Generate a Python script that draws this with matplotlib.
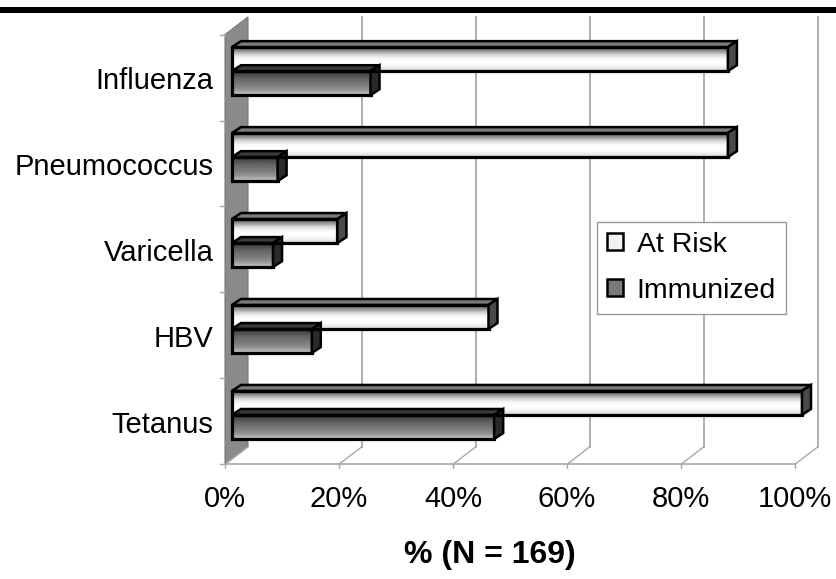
import numpy as np
import matplotlib
matplotlib.use("Agg")
import matplotlib.pyplot as plt
from matplotlib.patches import Rectangle, Polygon, Patch

plt.rcParams['font.family'] = ['Liberation Sans', 'DejaVu Sans']

# data (bottom to top)
categories = ['Tetanus', 'HBV', 'Varicella', 'Pneumococcus', 'Influenza']
at_risk = [100, 45, 18.5, 87, 87]
immunized = [46, 14, 7.2, 8, 24.3]
xticks = [0, 20, 40, 60, 80, 100]
xticklabels = ['0%', '20%', '40%', '60%', '80%', '100%']

W, H = 836, 579
fig = plt.figure(figsize=(W / 100, H / 100), dpi=100)

# axes placed so that 0% -> 225px, 100% -> 795px, y=-0.5 -> 473px, y=4.5 -> 35px
xmin, xmax = -1.0, 105.0
ymin, ymax = -0.55, 4.75
pxx = 5.7
pxy = 87.6
left = 225 + xmin * pxx
right = 225 + xmax * pxx
bottom = 473 + (ymin + 0.5) * pxy
top = 473 - (ymax + 0.5) * pxy
ax = fig.add_axes([left / W, 1 - bottom / H, (right - left) / W, (bottom - top) / H])
ax.set_xlim(xmin, xmax)
ax.set_ylim(ymin, ymax)
ax.axis('off')

# 3d depth offsets (data units)
ddx, ddy = 23 / pxx, 18 / pxy
grid_c = '#a8a8a8'

# left wall
wall = Polygon([(0, -0.5), (ddx, -0.5 + ddy), (ddx, 4.5 + ddy), (0, 4.5)],
               closed=True, facecolor='#8a8a8a', edgecolor='#777777', lw=0.8, zorder=1)
ax.add_patch(wall)

# floor + back gridlines
ax.plot([0, 100], [-0.5, -0.5], color=grid_c, lw=1.2, zorder=1)
for v, lab in zip(xticks, xticklabels):
    ax.plot([v, v + ddx], [-0.5, -0.5 + ddy], color=grid_c, lw=1.0, zorder=1)
    ax.plot([v, v], [-0.5, -0.5 - 0.08], color=grid_c, lw=1.0, zorder=1)
    if v > 0:
        ax.plot([v + ddx, v + ddx], [-0.5 + ddy, 4.5 + ddy], color=grid_c, lw=1.3, zorder=1)
    ax.text(v, -1.0, lab, ha='center', va='baseline', fontsize=21, clip_on=False)

# wall ticks
for k in range(6):
    ax.plot([-0.8, 0], [-0.5 + k, -0.5 + k], color=grid_c, lw=1.0, zorder=1)

# category labels
for i, name in enumerate(categories):
    ax.text(-2.0, i - 0.135, name, ha='right', va='baseline', fontsize=21)

# bars
bx0 = 7 / pxx
off = 0.075
bh = 0.28
cdx, cdy = 9 / pxx, 6 / pxy
grad_risk = np.array([0.35, 0.6, 0.85, 0.97, 1.0, 0.97, 0.88]).reshape(-1, 1)
grad_imm = np.array([0.22, 0.32, 0.4, 0.45, 0.5, 0.58, 0.72]).reshape(-1, 1)


def bar3d(val, y0, grad, topc, capc):
    x1 = bx0 + val
    ax.imshow(grad, cmap='gray', vmin=0, vmax=1, aspect='auto', interpolation='bilinear',
              extent=(bx0, x1, y0, y0 + bh), origin='upper', zorder=3)
    ax.add_patch(Rectangle((bx0, y0), val, bh, facecolor='none', edgecolor='black', lw=2.3, zorder=4))
    ax.add_patch(Polygon([(bx0, y0 + bh), (x1, y0 + bh), (x1 + cdx, y0 + bh + cdy), (bx0 + cdx, y0 + bh + cdy)],
                         closed=True, facecolor=topc, edgecolor='black', lw=1.8, zorder=4))
    ax.add_patch(Polygon([(x1, y0), (x1, y0 + bh), (x1 + cdx, y0 + bh + cdy), (x1 + cdx, y0 + cdy)],
                         closed=True, facecolor=capc, edgecolor='black', lw=1.8, zorder=4))


for i in range(len(categories)):
    bar3d(immunized[i], i + off - bh, grad_imm, '#3a3a3a', '#2a2a2a')
    bar3d(at_risk[i], i + off, grad_risk, '#7a7a7a', '#4a4a4a')

ax.set_xlim(xmin, xmax)
ax.set_ylim(ymin, ymax)

# x label
fig.text(490 / W, 1 - 555 / H, '% (N = 169)', ha='center', va='center', fontsize=23, fontweight='bold')

# legend
handles = [Patch(facecolor='#f2f2f2', edgecolor='black', lw=1.8, label='At Risk'),
           Patch(facecolor='#7a7a7a', edgecolor='black', lw=1.8, label='Immunized')]
leg = ax.legend(handles=handles, loc='upper left', bbox_to_anchor=(597 / W, 1 - 222 / H),
                bbox_transform=fig.transFigure, borderaxespad=0, fontsize=20.5, fancybox=False,
                handlelength=0.55, handleheight=0.55, handletextpad=0.5, labelspacing=0.7,
                borderpad=0.35, framealpha=1)
leg.get_frame().set_edgecolor('#999999')
leg.get_frame().set_linewidth(1.0)

# black rule at the top
fig.add_artist(Rectangle((0, 1 - 13 / H), 1, 6 / H, transform=fig.transFigure,
                         facecolor='black', edgecolor='none'))

fig.savefig('out.png', dpi=100)
